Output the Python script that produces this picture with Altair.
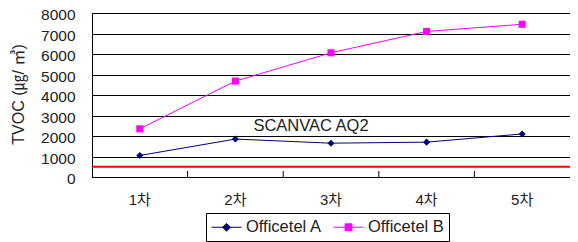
import altair as alt
import pandas as pd

# ---- data ----
categories = ["1차", "2차", "3차", "4차", "5차"]
series_names = ["Officetel A", "Officetel B"]
officetel_a = [1050, 1850, 1650, 1700, 2100]
officetel_b = [2350, 4680, 6060, 7100, 7450]
guideline_value = [500]
annotation_text = ["SCANVAC AQ2"]
annotation_cat = ["3차"]
annotation_value = [2500]
y_ticks = [0, 1000, 2000, 3000, 4000, 5000, 6000, 7000, 8000]
series_colors = ["#000080", "#ff00ff"]
marker_shapes = ["diamond", "square"]

# legend glyphs: a line with a (solid-looking) marker on it
# unit = 8.5 px (symbolSize 289); the line runs from the cell's left edge 30 px to the right
L0, L1, MC = -1.0, 2.53, 0.765

def diamond_path(rs):
    return f"M{L0},0H{L1}" + "".join(
        f"M{MC},{-r}L{MC + r:.3f},0L{MC},{r}L{MC - r:.3f},0Z" for r in rs)

def square_path(rs):
    return f"M{L0},0H{L1}" + "".join(
        f"M{MC - r:.3f},{-r}H{MC + r:.3f}V{r}H{MC - r:.3f}Z" for r in rs)

legend_shapes = [
    diamond_path([0.46, 0.38, 0.30, 0.22, 0.14, 0.06]),
    square_path([0.40, 0.32, 0.24, 0.16, 0.08]),
]

FONT = "Liberation Sans, Noto Sans CJK KR"
TXT = "#222222"

rows = []
for name, vals in zip(series_names, [officetel_a, officetel_b]):
    for c, v in zip(categories, vals):
        rows.append({"cat": c, "series": name, "value": v})
df = pd.DataFrame(rows)

W, H = 478, 164

x_scale = alt.Scale(type="band", domain=categories, paddingInner=0, paddingOuter=0)
x_axis = alt.Axis(
    title=None, ticks=False, labelAngle=0, labelFont=FONT, labelFontSize=15,
    labelColor=TXT, labelPadding=15, domainColor="black", grid=False,
)
y_scale = alt.Scale(domain=[0, 8000], nice=False)
y_axis = alt.Axis(
    values=y_ticks, format="d", labelOverlap=False, labelFlush=False,
    ticks=False, labelFont=FONT, labelFontSize=15.5, labelOffset=1.5,
    labelColor=TXT, labelPadding=17, grid=True, gridColor="black",
    gridWidth=1, domainColor="black",
    title="TVOC (㎍/ ㎥)", titleFont=FONT, titleFontSize=16,
    titleFontWeight="normal", titleColor=TXT, titleAngle=270,
    titleX=-74, titleY=81, titleAlign="center", titleBaseline="middle",
)

def X(band=0.5):
    return alt.X("cat:N", sort=categories, scale=x_scale, axis=x_axis, bandPosition=band)

def Y(field="value"):
    return alt.Y(f"{field}:Q", scale=y_scale, axis=y_axis)

color_scale = alt.Scale(domain=series_names, range=series_colors)

leg = alt.Legend(
    orient="none", legendX=114, legendY=200, direction="horizontal", title=None,
    strokeColor="black", padding=5, labelFont=FONT, labelFontSize=16.5,
    labelColor=TXT, symbolSize=289, symbolStrokeWidth=1, columnPadding=9,
    labelOffset=17, fillColor="white", labelLimit=200,
)
legend_layer = alt.Chart(df).transform_calculate(hidden="-5000").mark_point(
    filled=False, clip=True, opacity=1, strokeWidth=1
).encode(
    x=X(),
    y=Y("hidden"),
    color=alt.Color("series:N", scale=color_scale, legend=leg),
    shape=alt.Shape("series:N", scale=alt.Scale(domain=series_names, range=legend_shapes), legend=leg),
)

lines = alt.Chart(df).mark_line(strokeWidth=1).encode(
    x=X(), y=Y(),
    color=alt.Color("series:N", scale=color_scale, legend=None),
)

point_layers = []
for name, shp in zip(series_names, marker_shapes):
    point_layers.append(
        alt.Chart(df).transform_filter(alt.datum.series == name).mark_point(
            filled=True, size=50, opacity=1, shape=shp
        ).encode(
            x=X(), y=Y(),
            color=alt.Color("series:N", scale=color_scale, legend=None),
        )
    )

guide_df = pd.DataFrame({"value": guideline_value})
guide = alt.Chart(guide_df).mark_rule(color="#ff0000", strokeWidth=2).encode(y=Y())

tick_df = pd.DataFrame({"cat": categories[1:]})
inner_ticks = alt.Chart(tick_df).mark_rule(color="black", strokeWidth=1).encode(
    x=X(band=0),
    y=alt.value(H),
    y2=alt.value(H - 6),
)

ann_df = pd.DataFrame({"label": annotation_text, "cat": annotation_cat, "value": annotation_value})
annotation = alt.Chart(ann_df).mark_text(
    font=FONT, fontSize=16.5, color=TXT, dx=-20, baseline="middle", align="center"
).encode(
    x=X(),
    y=Y(),
    text="label:N",
)

chart = alt.layer(
    legend_layer, guide, inner_ticks, lines, *point_layers, annotation
).properties(
    width=W, height=H,
    autosize=alt.AutoSizeParams(type="none"),
    padding={"left": 84, "top": 5, "right": 0, "bottom": 65},
).configure_view(stroke="#808080", strokeWidth=1)

chart.save("out.html", embed_options={"renderer": "svg", "actions": False})
